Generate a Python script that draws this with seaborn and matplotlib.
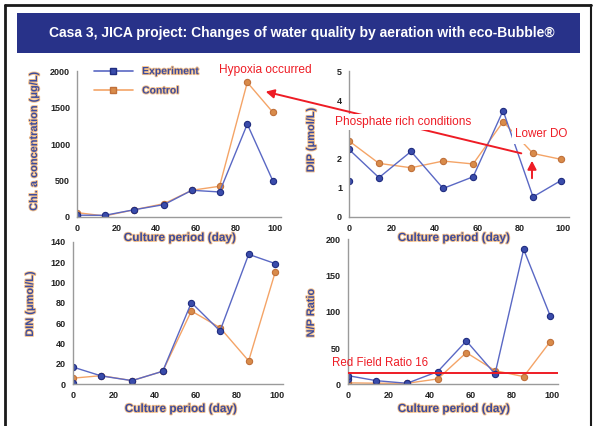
import numpy as np
import pandas as pd
import seaborn as sns
import matplotlib
matplotlib.use("Agg")
import matplotlib.pyplot as plt
import matplotlib.patheffects as pe
from matplotlib.patches import Rectangle, FancyArrowPatch
from matplotlib.lines import Line2D

# ---- data -------------------------------------------------------------
days_ctrl = [0, 14, 29, 44, 58, 72, 86, 99]
days_exp = [0, 0, 14, 29, 44, 58, 72, 86, 99]

chl_exp = [20, 25, 23, 100, 170, 366, 343, 1272, 490]
chl_ctrl = [60, 14, 100, 183, 366, 421, 1844, 1432]

dip_exp = [1.24, 2.31, 1.34, 2.24, 0.97, 1.37, 3.64, 0.68, 1.24]
dip_ctrl = [2.6, 1.83, 1.68, 1.91, 1.81, 3.26, 2.17, 1.97]

din_exp = [1.5, 17, 8.2, 3.6, 12.8, 80.2, 52.4, 127.6, 118.5]
din_ctrl = [6.0, 8.5, 3.6, 12.8, 72, 55.6, 23, 110.3]

np_exp = [7, 12, 5, 1.4, 17.5, 59.8, 14.3, 186, 94.3]
np_ctrl = [2, 1.5, 1.4, 7.4, 43.7, 18.9, 10.6, 58.9]

redfield_ratio = 16

series_labels = ["Experiment", "Control"]
title = "Casa 3, JICA project: Changes of water quality by aeration with eco-Bubble\u00ae"
xlabel = "Culture period (day)"
ylabels = ["Chl. a concentration (\u03bcg/L)", "DIP (\u03bcmol/L)",
           "DIN (\u03bcmol/L)", "N/P Ratio"]
xticks = [0, 20, 40, 60, 80, 100]

# ---- styling ----------------------------------------------------------
W, H = 593, 426
BLUE_LINE, BLUE_FACE, BLUE_EDGE = "#5a68c4", "#3a4cab", "#1f2c80"
ORNG_LINE, ORNG_FACE, ORNG_EDGE = "#f4a467", "#d98b4a", "#c0703a"
RED = "#ee1c25"
LABEL_COLOR = "#3c4c9e"
halo = [pe.withStroke(linewidth=1.3, foreground="#f4c08a")]

sns.set_theme(style="white")
plt.rcParams["font.family"] = ["Liberation Sans", "DejaVu Sans"]

fig = plt.figure(figsize=(W / 100, H / 100), dpi=100)
fig.patch.set_facecolor("white")


def fx(x):
    return x / W


def fy(y):
    return 1 - y / H


XMAX = 103


def panel(x0, x100, y0, ytop, ymax, yticks, ytick_labels=None):
    w = (x100 - x0) * XMAX / 100
    ax = fig.add_axes([fx(x0), fy(y0), w / W, (y0 - ytop) / H])
    ax.set_xlim(0, XMAX)
    ax.set_ylim(0, ymax)
    ax.set_facecolor("none")
    for s in ["top", "right"]:
        ax.spines[s].set_visible(False)
    for s in ["left", "bottom"]:
        ax.spines[s].set_color("#9a9a9a")
        ax.spines[s].set_linewidth(1.0)
    ax.set_xticks(xticks)
    ax.set_yticks(yticks)
    if ytick_labels is not None:
        ax.set_yticklabels(ytick_labels)
    ax.tick_params(axis="both", direction="in", length=3, width=0.8,
                   color="#9a9a9a", labelsize=6.5, pad=5, labelcolor="#222222")
    for lab in ax.get_xticklabels() + ax.get_yticklabels():
        lab.set_fontweight("bold")
    return ax


def draw_series(ax, days, values, line, face, edge):
    df = pd.DataFrame({"day": days, "value": values})
    sns.lineplot(data=df, x="day", y="value", ax=ax, estimator=None,
                 sort=False, color=line, linewidth=1.0, marker="o",
                 markersize=4.5, markerfacecolor=face, markeredgecolor=edge,
                 markeredgewidth=0.8)


def labels(ax, ylabel, xlab_xy, ylab_xy):
    ax.set_xlabel("")
    ax.set_ylabel("")
    fig.text(fx(xlab_xy[0]), fy(xlab_xy[1]), xlabel, ha="center", va="center",
             fontsize=8.5, fontweight="bold", color=LABEL_COLOR,
             path_effects=halo)
    fig.text(fx(ylab_xy[0]), fy(ylab_xy[1]), ylabel, ha="center",
             va="center", rotation=90, fontsize=7.9, fontweight="bold",
             color=LABEL_COLOR, path_effects=halo)


# ---- frame and title banner ------------------------------------------
fig.add_artist(Line2D([fx(5), fx(5)], [0, fy(5)], color="#1a1a1a", lw=2))
fig.add_artist(Line2D([fx(5), fx(591)], [fy(5), fy(5)], color="#1a1a1a", lw=2))
fig.add_artist(Line2D([fx(591), fx(591)], [0, fy(5)], color="#1a1a1a", lw=1.5))
fig.add_artist(Rectangle((fx(17), fy(53)), (580 - 17) / W, (53 - 13) / H,
                         transform=fig.transFigure, facecolor="#283289",
                         edgecolor="none"))
fig.text(fx(302), fy(33), title, ha="center", va="center", color="white",
         fontsize=10, fontweight="bold")

# ---- panels -----------------------------------------------------------
ax1 = panel(77, 275, 217, 71, 2000, [0, 500, 1000, 1500, 2000])
draw_series(ax1, days_ctrl, chl_ctrl, ORNG_LINE, ORNG_FACE, ORNG_EDGE)
draw_series(ax1, days_exp, chl_exp, BLUE_LINE, BLUE_FACE, BLUE_EDGE)
labels(ax1, ylabels[0], (180, 238), (34, 141))

# the "3" label sits under the "Phosphate rich conditions" note
ax2 = panel(349, 563, 216.7, 71, 5, [0, 1, 2, 3, 4, 5],
            ["0", "1", "2", "", "4", "5"])
draw_series(ax2, days_ctrl, dip_ctrl, ORNG_LINE, ORNG_FACE, ORNG_EDGE)
draw_series(ax2, days_exp, dip_exp, BLUE_LINE, BLUE_FACE, BLUE_EDGE)
labels(ax2, ylabels[1], (454, 238), (311, 140))

ax3 = panel(72.7, 277.3, 384.3, 241.7, 140, list(range(0, 141, 20)))
draw_series(ax3, days_ctrl, din_ctrl, ORNG_LINE, ORNG_FACE, ORNG_EDGE)
draw_series(ax3, days_exp, din_exp, BLUE_LINE, BLUE_FACE, BLUE_EDGE)
labels(ax3, ylabels[2], (181, 409), (30, 304))

ax4 = panel(347.7, 552.3, 384.3, 239.3, 200, [0, 50, 100, 150, 200])
draw_series(ax4, days_ctrl, np_ctrl, ORNG_LINE, ORNG_FACE, ORNG_EDGE)
draw_series(ax4, days_exp, np_exp, BLUE_LINE, BLUE_FACE, BLUE_EDGE)
ax4.axhline(redfield_ratio, xmin=0, xmax=1.0, color=RED, lw=1.4, zorder=5)
labels(ax4, ylabels[3], (454, 409), (311, 313))
fig.text(fx(332), fy(363), "Red Field Ratio 16", ha="left", va="center",
         color=RED, fontsize=8.3)

# ---- legend -----------------------------------------------------------
handles = [
    Line2D([], [], color=BLUE_LINE, lw=1.2, marker="s", markersize=5,
           markerfacecolor=BLUE_FACE, markeredgecolor=BLUE_EDGE),
    Line2D([], [], color=ORNG_LINE, lw=1.2, marker="s", markersize=5,
           markerfacecolor=ORNG_FACE, markeredgecolor=ORNG_EDGE),
]
leg = ax1.legend(handles, series_labels, loc="upper left",
                 bbox_to_anchor=(fx(90), fy(62)),
                 bbox_transform=fig.transFigure, frameon=False,
                 handlelength=3.7, labelspacing=0.9, fontsize=7.5,
                 handletextpad=0.9, borderaxespad=0)
for t in leg.get_texts():
    t.set_color(LABEL_COLOR)
    t.set_fontweight("bold")
    t.set_path_effects(halo)

# ---- annotations --------------------------------------------------------
fig.text(fx(265), fy(70), "Hypoxia occurred", ha="center", va="center",
         color=RED, fontsize=8.6)
fig.add_artist(FancyArrowPatch((fx(524), fy(154)), (fx(263), fy(91)),
                               transform=fig.transFigure,
                               arrowstyle="-|>,head_length=5,head_width=2.6",
                               color=RED, lw=1.4, zorder=10))
fig.text(fx(335), fy(122), "Phosphate rich conditions", ha="left",
         va="center", color=RED, fontsize=8.6, zorder=11,
         bbox=dict(facecolor="white", edgecolor="none", pad=1.5))
fig.text(fx(515), fy(134), "Lower DO", ha="left", va="center", color=RED,
         fontsize=8.4, zorder=11,
         bbox=dict(facecolor="white", edgecolor="none", pad=2.5))
fig.add_artist(FancyArrowPatch((fx(532), fy(181)), (fx(532), fy(158)),
                               transform=fig.transFigure,
                               arrowstyle="-|>,head_length=5,head_width=2.6",
                               color=RED, lw=1.4, zorder=10))

fig.savefig("out.png", dpi=100, facecolor="white")
